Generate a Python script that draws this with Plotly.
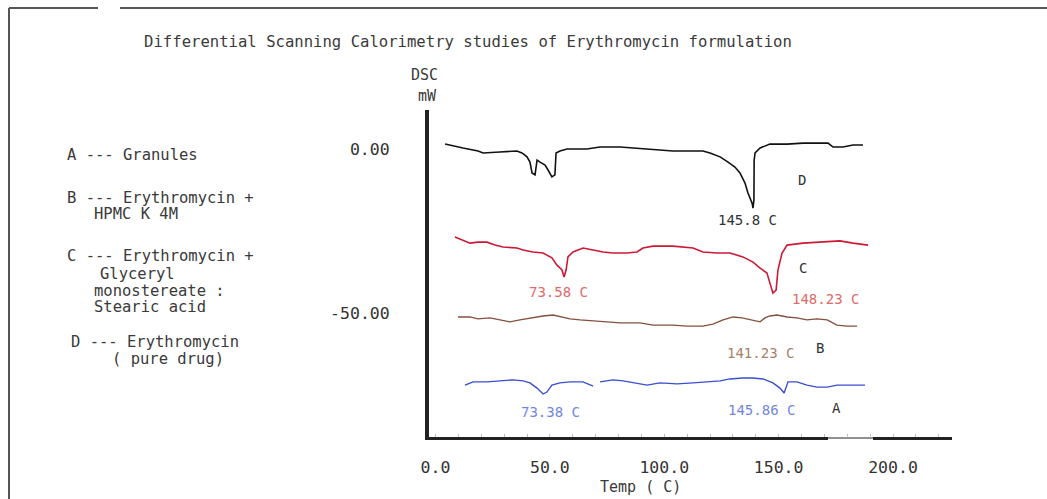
import plotly.graph_objects as go

# ---------------- data (in the visible axis units) ----------------
d_temp = [4.2, 7.7, 12.0, 18.6, 20.8, 28.2, 32.6, 35.6, 37.8, 40.0, 41.3, 42.2, 43.5, 44.4, 45.7,
          47.9, 49.2, 50.9, 52.2, 52.7, 54.4, 57.5, 66.2, 71.9, 80.7, 86.3, 95.1, 103.8, 110.0,
          116.9, 120.0, 124.4, 127.9, 130.9, 133.1, 135.3, 136.6, 138.4, 138.8, 139.2, 139.3,
          139.7, 141.9, 146.2, 153.7, 160.7, 168.1, 171.6, 173.8, 178.1, 182.5, 186.9]
d_dsc = [1.5, 0.9, 0.3, -0.6, -1.2, -0.9, -0.6, -0.6, -1.2, -2.4, -4.0, -7.3, -7.9, -3.4, -4.0,
         -4.9, -6.4, -8.5, -7.9, -1.2, -0.6, 0.0, 0.0, 0.6, 0.6, 0.3, 0.0, -0.6, -0.6,
         -0.6, -1.2, -2.4, -4.0, -5.5, -7.3, -10.4, -13.4, -16.5, -18.0, -15.5, -3.4,
         -1.2, 0.3, 1.5, 1.5, 1.8, 1.8, 1.8, 0.6, 0.6, 1.2, 1.2]

c_temp = [8.5, 12.0, 15.1, 18.6, 22.5, 26.0, 29.5, 35.6, 38.3, 42.6, 47.0, 50.9, 53.1, 55.3, 56.2,
          57.1, 57.9, 60.1, 64.5, 68.9, 73.2, 77.6, 83.7, 88.1, 90.7, 95.1, 103.8, 112.6, 116.9,
          123.1, 128.7, 134.4, 138.8, 141.9, 144.9, 146.2, 147.5, 148.9, 149.7, 151.5, 153.7,
          160.7, 169.4, 176.8, 182.5, 189.1]
c_dsc = [-26.8, -27.7, -28.7, -28.4, -28.4, -29.3, -29.9, -30.2, -30.8, -31.4, -31.7, -33.2, -35.4,
         -36.9, -39.0, -36.9, -32.9, -31.4, -30.2, -30.8, -31.4, -31.7, -31.7, -31.4, -30.2, -29.6,
         -29.6, -30.2, -31.4, -31.7, -31.7, -32.9, -34.5, -36.3, -37.8, -40.9, -43.9, -43.0, -36.9,
         -31.7, -29.3, -28.7, -28.4, -28.0, -28.7, -29.3]

b_temp = [9.8, 15.1, 18.6, 23.8, 28.2, 32.6, 36.9, 41.3, 47.0, 51.4, 55.3, 58.8, 63.2, 68.9, 75.0,
          80.7, 89.4, 95.1, 103.8, 110.0, 116.9, 121.3, 125.7, 130.1, 134.0, 137.5, 141.9, 144.0,
          146.2, 149.3, 153.7, 158.0, 162.4, 166.8, 171.2, 175.5, 179.9, 184.3]
b_dsc = [-51.2, -51.2, -51.8, -51.5, -52.1, -52.7, -52.1, -51.5, -50.9, -50.6, -51.2, -51.8, -52.1,
         -52.4, -52.7, -53.0, -53.0, -53.7, -53.7, -54.0, -54.0, -53.4, -52.1, -51.2, -51.5, -52.1,
         -52.7, -51.5, -50.9, -50.6, -51.2, -51.5, -52.1, -51.8, -52.1, -53.7, -54.0, -54.0]

a_temp = [12.9, 16.4, 22.5, 28.2, 33.9, 38.3, 41.3, 44.4, 47.0, 48.7, 50.9, 54.4, 58.8, 64.5, 68.9,
          None, 71.9, 77.6, 82.0, 86.3, 92.5, 98.1, 105.6, 112.6, 118.7, 124.4, 128.7, 134.4,
          138.8, 143.2, 147.5, 150.6, 152.4, 153.7, 154.1, 158.0, 162.4, 166.8, 171.2, 175.5,
          181.2, 187.8]
a_dsc = [-72.0, -71.0, -71.0, -70.7, -70.4, -70.7, -71.3, -72.9, -74.7, -74.1, -72.0, -71.3, -71.0,
         -71.0, -72.3, None, -71.0, -70.4, -70.7, -71.3, -72.0, -71.3, -71.6, -71.3, -71.0, -70.7,
         -70.1, -69.8, -69.8, -70.1, -71.3, -72.9, -74.4, -71.3, -71.0, -71.0, -72.0, -72.6,
         -72.6, -72.0, -72.0, -72.0]

x_tick_vals = [0, 50, 100, 150, 200]
x_tick_text = ["0.0", "50.0", "100.0", "150.0", "200.0"]
y_tick_vals = [0, -50]
y_tick_text = ["0.00", "-50.00"]

# peak labels: text, x, y, colour
peak_labels = [
    ("145.8 C", 136.6, -21.6, "#333333"),
    ("D", 160.2, -9.5, "#333333"),
    ("73.58 C", 53.6, -43.6, "#e06a6a"),
    ("148.23 C", 170.7, -45.7, "#e06a6a"),
    ("C", 160.7, -36.3, "#333333"),
    ("141.23 C", 141.9, -62.2, "#a8806a"),
    ("B", 168.1, -60.7, "#333333"),
    ("73.38 C", 50.1, -80.2, "#6f86e0"),
    ("145.86 C", 142.7, -79.6, "#6f86e0"),
    ("A", 175.5, -79.0, "#333333"),
]

legend_lines = [
    ("A --- Granules", 65, 155),
    ("B --- Erythromycin +", 65, 198),
    ("HPMC K 4M", 92, 214),
    ("C --- Erythromycin +", 65, 256),
    ("Glyceryl", 98, 274),
    ("monostereate :", 92, 291),
    ("Stearic acid", 92, 307),
    ("D --- Erythromycin", 69, 342),
    ("( pure drug)", 110, 359),
]

# ---------------- layout geometry ----------------
W, H = 1047, 499
L, R, T, B = 429, 952, 110, 437   # plot area in pixels
PW, PH = R - L, B - T


def px(xp):
    return (xp - L) / PW


def py(yp):
    return (B - yp) / PH


FONT = "DejaVu Sans Mono"
TXT = "#3a3a3a"

fig = go.Figure()
series = [
    (d_temp, d_dsc, "#111111", 1.6),
    (c_temp, c_dsc, "#cc1a36", 1.6),
    (b_temp, b_dsc, "#85503e", 1.4),
    (a_temp, a_dsc, "#3a4fd0", 1.4),
]
for xs, ys, col, w in series:
    fig.add_trace(go.Scatter(x=xs, y=ys, mode="lines", line=dict(color=col, width=w),
                             connectgaps=False, showlegend=False, hoverinfo="skip"))

ann = []
for txt, x, y, col in peak_labels:
    ann.append(dict(text=txt, x=x, y=y, xref="x", yref="y", showarrow=False,
                    xanchor="center", yanchor="middle",
                    font=dict(family=FONT, size=14, color=col)))
for txt, xp_, yp_ in legend_lines:
    ann.append(dict(text=txt, x=px(xp_), y=py(yp_), xref="paper", yref="paper",
                    xanchor="left", yanchor="middle", showarrow=False,
                    font=dict(family=FONT, size=15.5, color=TXT)))
for txt, xp_, yp_ in [("DSC", 424, 75), ("mW", 427, 96), ("Temp ( C)", 640, 487)]:
    ann.append(dict(text=txt, x=px(xp_), y=py(yp_), xref="paper", yref="paper",
                    xanchor="center", yanchor="middle", showarrow=False,
                    font=dict(family=FONT, size=15, color=TXT)))

x0 = (L - 435.5) / 2.2875
x1 = (R - 435.5) / 2.2875
y1 = (149 - T) / 3.28
y0 = (149 - B) / 3.28

shapes = [
    # frame around the figure
    dict(type="line", xref="paper", yref="paper", x0=px(9), x1=px(98), y0=py(8), y1=py(8),
         line=dict(color="#555555", width=2)),
    dict(type="line", xref="paper", yref="paper", x0=px(120), x1=px(1047), y0=py(8), y1=py(8),
         line=dict(color="#555555", width=2)),
    dict(type="line", xref="paper", yref="paper", x0=px(9), x1=px(9), y0=py(8), y1=py(499),
         line=dict(color="#555555", width=2)),
    # thin section of the x axis
    dict(type="line", xref="paper", yref="paper", x0=px(828), x1=px(873), y0=py(B + 1.5), y1=py(B + 1.5),
         line=dict(color="white", width=4)),
    dict(type="line", xref="paper", yref="paper", x0=px(828), x1=px(873), y0=py(B + 1), y1=py(B + 1),
         line=dict(color="#222222", width=1)),
]

fig.update_layout(
    width=W, height=H,
    margin=dict(l=L, r=W - R, t=T, b=H - B, pad=0),
    paper_bgcolor="white", plot_bgcolor="white",
    title=dict(text="Differential Scanning Calorimetry studies of Erythromycin formulation",
               x=468 / W, y=1 - 42 / H, xref="container", yref="container",
               xanchor="center", yanchor="middle",
               font=dict(family=FONT, size=15.6, color=TXT)),
    annotations=ann,
    shapes=shapes,
    xaxis=dict(range=[x0, x1], tickvals=x_tick_vals, ticktext=x_tick_text,
               showgrid=False, zeroline=False, showline=True, linecolor="#222222", linewidth=3,
               ticks="", ticklabelstandoff=13,
               tickfont=dict(family=FONT, size=16.5, color="#333333"),
               minor=dict(ticks="inside", ticklen=3, tickcolor="#bbbbbb", dtick=10, tick0=0)),
    yaxis=dict(range=[y0, y1], tickvals=y_tick_vals, ticktext=y_tick_text,
               showgrid=False, zeroline=False, showline=True, linecolor="#222222", linewidth=4,
               ticks="", ticklabelstandoff=32,
               tickfont=dict(family=FONT, size=16.5, color="#333333")),
)

fig.write_html("out.html")
